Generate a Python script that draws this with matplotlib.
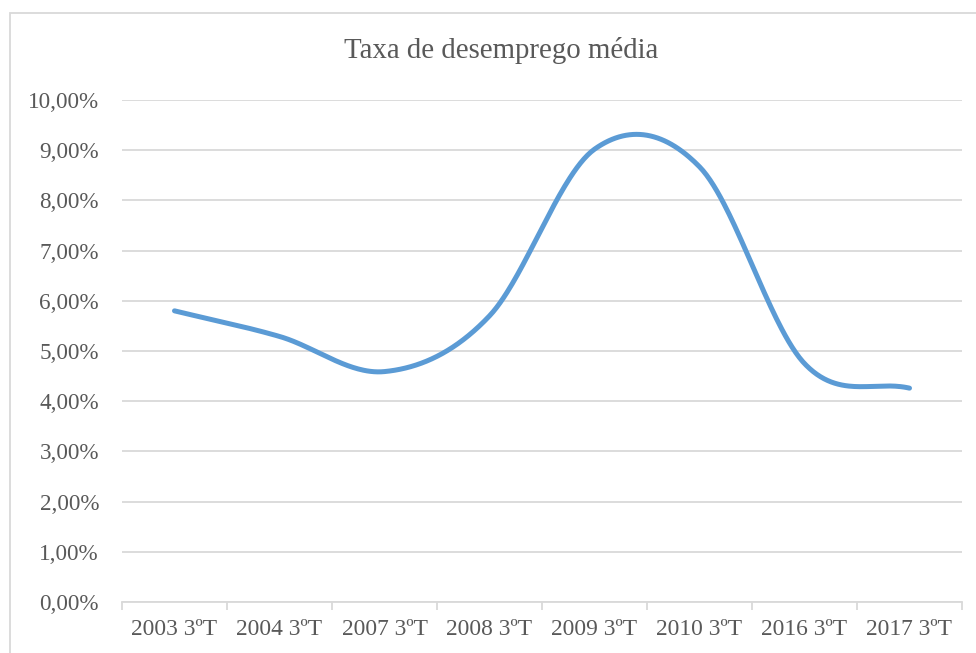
import numpy as np
import matplotlib
matplotlib.use("Agg")
import matplotlib.pyplot as plt
from matplotlib.patches import Rectangle
from matplotlib.ticker import FuncFormatter, FixedLocator

categories = ["2003 3ºT", "2004 3ºT", "2007 3ºT", "2008 3ºT",
              "2009 3ºT", "2010 3ºT", "2016 3ºT", "2017 3ºT"]
taxa = [5.80, 5.29, 4.59, 5.70, 9.02, 8.67, 4.75, 4.26]
title = "Taxa de desemprego média"

TEXT = "#595959"
GRID = "#d9d9d9"
LINE = "#5b9bd5"

plt.rcParams["font.family"] = ["Liberation Serif", "DejaVu Serif"]


def smooth(y, n=60):
    """Catmull-Rom spline through the points (x = category index)."""
    y = np.asarray(y, float)
    x = np.arange(len(y), dtype=float)
    ext_y = np.concatenate([[2 * y[0] - y[1]], y, [2 * y[-1] - y[-2]]])
    xs, ys = [], []
    for i in range(len(y) - 1):
        p0, p1, p2, p3 = ext_y[i:i + 4]
        m1 = (p2 - p0) / 2.0
        m2 = (p3 - p1) / 2.0
        if i == 0:
            m1 = p2 - p1
        if i == len(y) - 2:
            m2 = p2 - p1
        t = np.linspace(0, 1, n, endpoint=(i == len(y) - 2))
        h00 = 2 * t**3 - 3 * t**2 + 1
        h10 = t**3 - 2 * t**2 + t
        h01 = -2 * t**3 + 3 * t**2
        h11 = t**3 - t**2
        xs.append(x[i] + t)
        ys.append(h00 * p1 + h10 * m1 + h01 * p2 + h11 * m2)
    return np.concatenate(xs), np.concatenate(ys)


W, H = 976, 653
fig = plt.figure(figsize=(W / 100, H / 100), dpi=100)

# chart area border
fig.patches.append(Rectangle((10 / W, -0.1), 1.2, 1 - 13 / H + 0.1,
                             transform=fig.transFigure, fill=False,
                             edgecolor=GRID, linewidth=1.3))

ax = fig.add_axes([122 / W, 1 - 602 / H, (962 - 122) / W, (602 - 100) / H])

n = len(categories)
xs, ys = smooth(taxa)
ax.plot(xs, ys, color=LINE, linewidth=3.6, solid_capstyle="round",
        solid_joinstyle="round", zorder=3)

ax.set_xlim(-0.5, n - 0.5)
ax.set_ylim(0, 10)
ax.set_yticks(np.arange(0, 10.01, 1))
ax.yaxis.set_major_formatter(FuncFormatter(lambda v, p: f"{v:.2f}".replace(".", ",") + "%"))
ax.yaxis.grid(True, color=GRID, linewidth=1.3)
ax.set_axisbelow(True)

ax.xaxis.set_major_locator(FixedLocator(np.arange(-0.5, n, 1)))
ax.xaxis.set_major_formatter(FuncFormatter(lambda v, p: ""))
ax.xaxis.set_minor_locator(FixedLocator(np.arange(n)))
ax.set_xticklabels(categories, minor=True)

for s in ("top", "right", "left"):
    ax.spines[s].set_visible(False)
ax.spines["bottom"].set_color(GRID)
ax.spines["bottom"].set_linewidth(1.3)

ax.tick_params(axis="y", length=0, pad=16.5, labelsize=16.7, labelcolor=TEXT)
ax.tick_params(axis="x", which="major", length=6, color=GRID, width=1.3)
ax.tick_params(axis="x", which="minor", length=0, pad=12.5, labelsize=16.9,
               labelcolor=TEXT)

fig.text(501 / W, 1 - 51 / H, title, ha="center", va="center",
         fontsize=20.8, color=TEXT)

fig.savefig("out.png", dpi=100, facecolor="white")
